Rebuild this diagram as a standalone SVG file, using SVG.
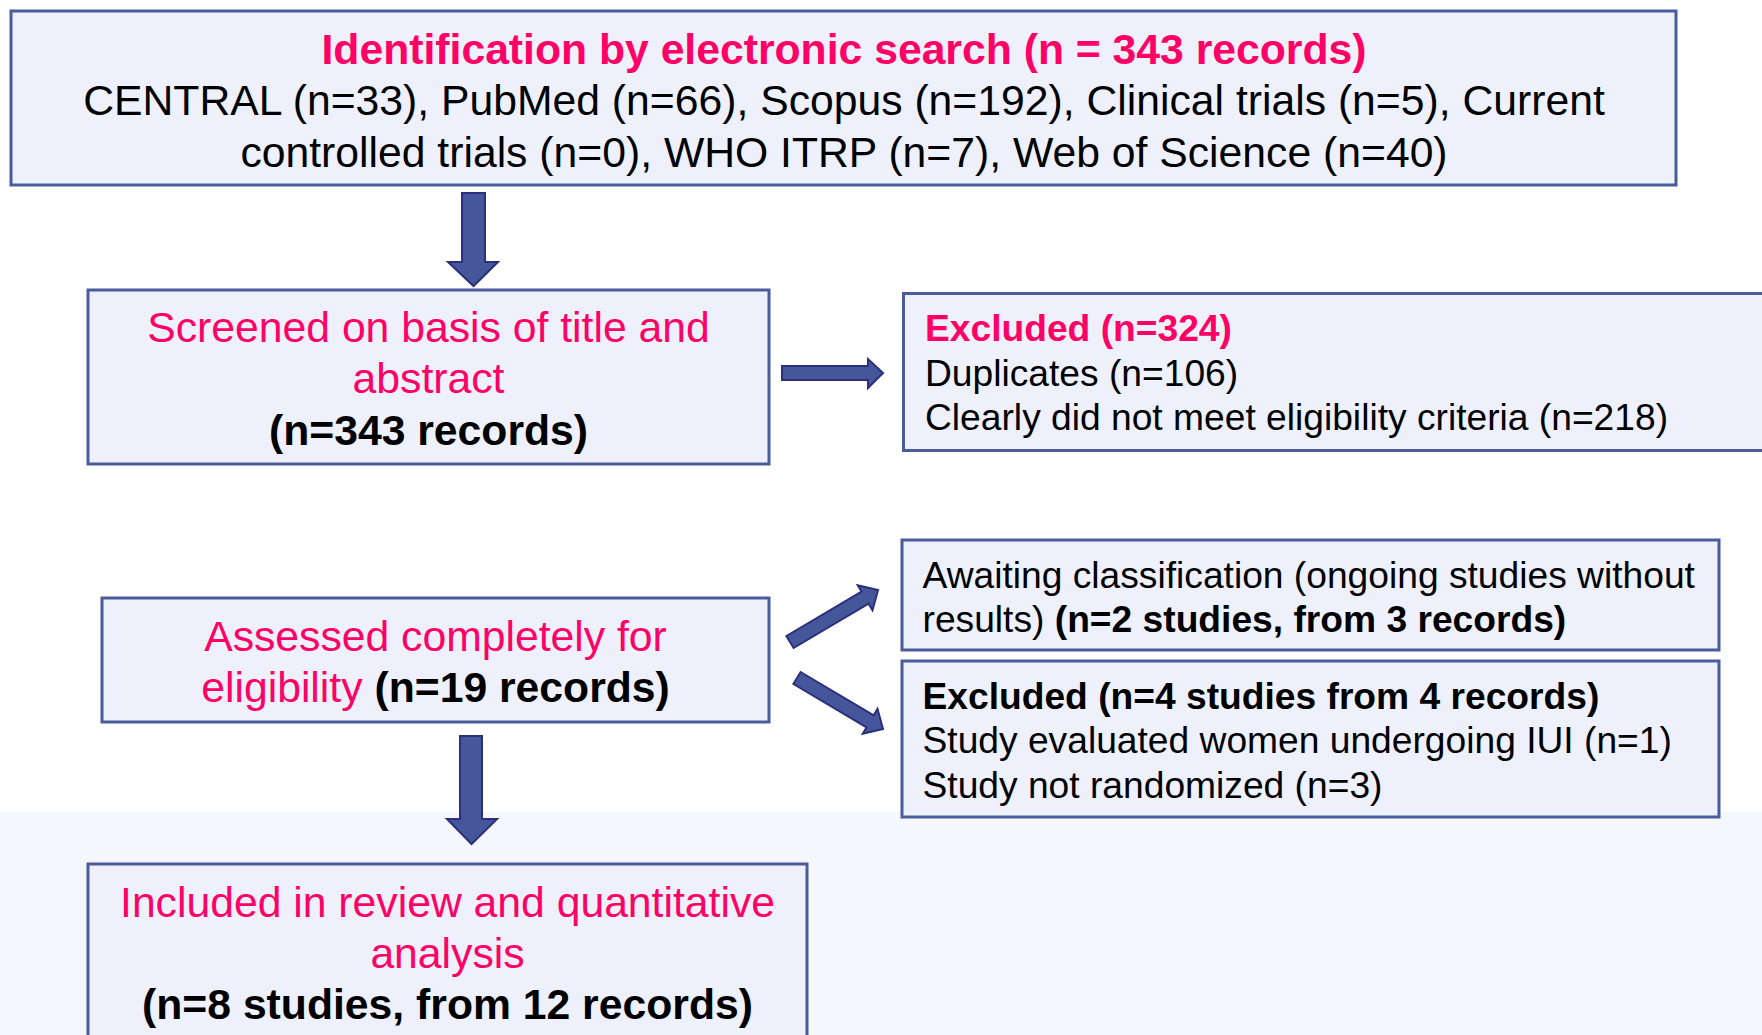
<svg xmlns="http://www.w3.org/2000/svg" width="1762" height="1035" viewBox="0 0 1762 1035">
<defs>
<style>
.box{fill:#eef1fb;stroke:#4a5c9c;stroke-width:3}
.arr{fill:#45579a;stroke:#2c2f7a;stroke-width:2;stroke-linejoin:miter}
text{font-family:"Liberation Sans",Arial,sans-serif;fill:#000}
.big{font-size:42.7px}
.sm{font-size:37.2px}
.pk{fill:#ff0066}
.b{font-weight:bold}
.c{text-anchor:middle}
</style>
</defs>
<rect x="0" y="0" width="1762" height="1035" fill="#ffffff"/>
<rect x="0" y="812" width="1762" height="223" fill="#f4f7fb"/>
<g id="connectors">
<polygon class="arr" points="462,193 485,193 485,262 498,262 473.5,286 448,262 462,262"/>
<polygon class="arr" points="782,366 868,366 868,359 883,373 868,388 868,380 782,380"/>
<polygon class="arr" points="793.6,648 868.6,603.7 872.5,610.2 878,590 857.7,585.2 861.5,591.6 786.4,636"/>
<polygon class="arr" points="793.4,684 866.5,727.4 862.7,733.8 883,729 877.5,708.9 873.7,715.3 800.6,672"/>
<polygon class="arr" points="460,736 482,736 482,819 497,819 471.5,844 447,819 460,819"/>
</g>
<g id="identification">
<rect class="box" x="11" y="11" width="1665" height="174"/>
<text class="big b pk c" x="844" y="63.5">Identification by electronic search (n = 343 records)</text>
<text class="big c" x="844" y="115">CENTRAL (n=33), PubMed (n=66), Scopus (n=192), Clinical trials (n=5), Current</text>
<text class="big c" x="844" y="166.5">controlled trials (n=0), WHO ITRP (n=7), Web of Science (n=40)</text>
</g>
<g id="screened">
<rect class="box" x="88" y="290" width="681" height="174"/>
<text class="big pk c" x="428.5" y="341.5">Screened on basis of title and</text>
<text class="big pk c" x="428.5" y="393">abstract</text>
<text class="big b c" x="428.5" y="445">(n=343 records)</text>
</g>
<g id="excluded1">
<rect class="box" x="903.5" y="293.5" width="870" height="157"/>
<text class="sm b pk" x="925" y="341">Excluded (n=324)</text>
<text class="sm" x="925" y="386">Duplicates (n=106)</text>
<text class="sm" x="925" y="430">Clearly did not meet eligibility criteria (n=218)</text>
</g>
<g id="assessed">
<rect class="box" x="102" y="598" width="667" height="124"/>
<text class="big pk c" x="435.5" y="651">Assessed completely for</text>
<text class="big c" x="435.5" y="702"><tspan class="pk">eligibility</tspan> <tspan class="b">(n=19 records)</tspan></text>
</g>
<g id="awaiting">
<rect class="box" x="902" y="540" width="817" height="110"/>
<text class="sm" x="922.5" y="587.5">Awaiting classification (ongoing studies without</text>
<text class="sm" x="922.5" y="632">results) <tspan class="b">(n=2 studies, from 3 records)</tspan></text>
</g>
<g id="excluded2">
<rect class="box" x="902" y="661" width="817" height="156"/>
<text class="sm b" x="922.5" y="708.5">Excluded (n=4 studies from 4 records)</text>
<text class="sm" x="922.5" y="753">Study evaluated women undergoing IUI (n=1)</text>
<text class="sm" x="922.5" y="798">Study not randomized (n=3)</text>
</g>
<g id="included">
<rect class="box" x="88" y="864" width="719" height="200"/>
<text class="big pk c" x="447.5" y="917">Included in review and quantitative</text>
<text class="big pk c" x="447.5" y="968">analysis</text>
<text class="big b c" x="447.5" y="1019">(n=8 studies, from 12 records)</text>
</g>
</svg>
